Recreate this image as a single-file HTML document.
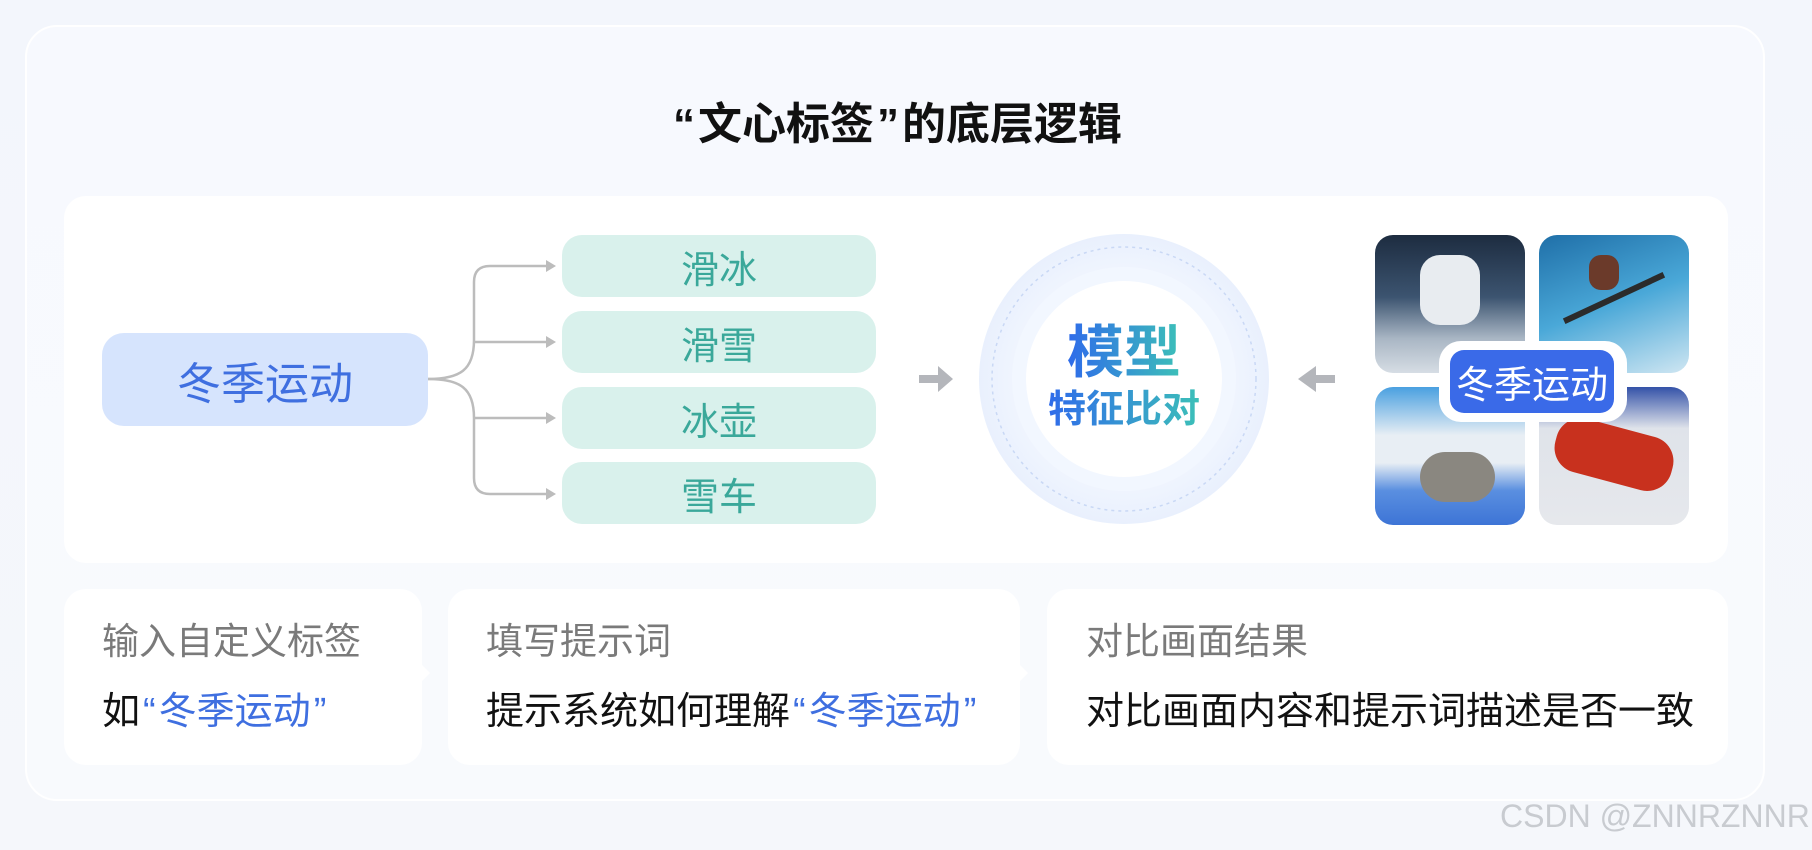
<!DOCTYPE html>
<html><head><meta charset="utf-8"><style>
*{margin:0;padding:0;box-sizing:border-box}
body{width:1812px;height:850px;overflow:hidden;background:linear-gradient(180deg,#f3f6fc,#f5f7fb);font-family:"Liberation Sans","Noto Sans CJK SC",sans-serif;position:relative}
.a{position:absolute}
.outer{left:25px;top:25px;width:1740px;height:776px;border-radius:32px;background:linear-gradient(180deg,#f7f9fe,#f8fafd);border:2px solid #fff}
.title{left:0;width:1792px;top:88px;text-align:center;font-size:44px;font-weight:bold;color:#111}
.panel{left:64px;top:196px;width:1664px;height:367px;border-radius:22px;background:#fff}
.tag{left:102px;top:333px;width:326px;height:93px;border-radius:22px;background:#d6e4fd;color:#3f6fe0;font-size:44px;display:flex;align-items:center;justify-content:center}
.pill{left:562px;width:314px;height:62px;border-radius:20px;background:#d9f1ec;color:#3aa89a;font-size:38px;display:flex;align-items:center;justify-content:center}
.img{width:150px;height:138px;border-radius:18px;overflow:hidden}
.card{top:589px;height:176px;border-radius:22px;background:#fff}
.l1{font-size:37px;color:#7a7a7a;top:611px}
.l2{font-size:38px;color:#111;top:680px;white-space:nowrap}
.bl{color:#3f6fe0}
.q{font-family:"Liberation Sans",sans-serif;padding:0 3px}
</style></head><body>
<div class="a outer"></div>
<div class="a title"><span class="q">“</span>文心标签<span class="q">”</span>的底层逻辑</div>
<div class="a panel"></div>
<div class="a tag">冬季运动</div>
<svg class="a" style="left:0;top:0" width="1812" height="850">
<g fill="none" stroke="#bcbcbc" stroke-width="2.5">
<path d="M428 379 C460 379 474 370 474 340 L474 282 Q474 266 490 266 L548 266"/>
<path d="M474 342 Q474 342 490 342 L548 342"/>
<path d="M428 379 C460 379 474 388 474 418 L474 478 Q474 494 490 494 L548 494"/>
<path d="M474 418 Q474 418 490 418 L548 418"/>
</g>
<g fill="#bcbcbc"><path d="M546 260 L556 266 L546 272Z"/><path d="M546 336 L556 342 L546 348Z"/><path d="M546 412 L556 418 L546 424Z"/><path d="M546 488 L556 494 L546 500Z"/></g>
<path d="M919 375 L938 375 L938 366 L953 379 L938 392 L938 383 L919 383Z" fill="#b4b6bb"/>
<path d="M1335 375 L1316 375 L1316 366 L1298 379 L1316 392 L1316 383 L1335 383Z" fill="#b4b6bb"/>
<defs><radialGradient id="rg"><stop offset="0.6" stop-color="#f4f8ff"/><stop offset="1" stop-color="#e9f0fd"/></radialGradient>
<linearGradient id="tg" x1="0" x2="1"><stop offset="0" stop-color="#2f6bea"/><stop offset="1" stop-color="#3cc0b8"/></linearGradient></defs>
<circle cx="1124" cy="379" r="145" fill="url(#rg)"/>
<circle cx="1124" cy="379" r="132" fill="none" stroke="#c9d8f5" stroke-width="1.5" stroke-dasharray="3 4"/>
<circle cx="1124" cy="379" r="112" fill="#f2f7ff"/>
<circle cx="1124" cy="379" r="98" fill="#fff"/>
<text x="1124" y="372" text-anchor="middle" font-size="57" font-weight="bold" fill="url(#tg)" font-family="Liberation Sans,Noto Sans CJK SC,sans-serif">模型</text>
<text x="1124" y="422" text-anchor="middle" font-size="38" font-weight="bold" fill="url(#tg)" font-family="Liberation Sans,Noto Sans CJK SC,sans-serif">特征比对</text>
<path d="M422 665 L430 673 L422 681Z" fill="#fff"/>
<path d="M1020 665 L1028 673 L1020 681Z" fill="#fff"/>
</svg>
<div class="a pill" style="top:235px">滑冰</div>
<div class="a pill" style="top:311px">滑雪</div>
<div class="a pill" style="top:387px">冰壶</div>
<div class="a pill" style="top:462px">雪车</div>
<div class="a img" style="left:1375px;top:235px;background:linear-gradient(180deg,#1d2c40 0%,#3c5470 45%,#a9b6c4 75%,#d6dde4 100%)"><div class="a" style="left:45px;top:20px;width:60px;height:70px;border-radius:20px;background:#e8ecf0"></div></div>
<div class="a img" style="left:1539px;top:235px;background:linear-gradient(160deg,#1f6fa8,#4aa8d8 50%,#cfe6f2)"><div class="a" style="left:20px;top:60px;width:110px;height:6px;background:#2b2b2b;transform:rotate(-25deg)"></div><div class="a" style="left:50px;top:20px;width:30px;height:35px;border-radius:12px;background:#6b3a2a"></div></div>
<div class="a img" style="left:1375px;top:387px;background:linear-gradient(180deg,#4aa0e0 0%,#e8eef4 35%,#e8eef4 55%,#5a8fe0 75%,#3d74d6 100%)"><div class="a" style="left:45px;top:65px;width:75px;height:50px;border-radius:30px;background:#8a8780"></div></div>
<div class="a img" style="left:1539px;top:387px;background:linear-gradient(180deg,#3452a8 0%,#dfe3ea 30%,#e6e8ec 100%)"><div class="a" style="left:15px;top:40px;width:120px;height:55px;border-radius:25px;background:#c8311e;transform:rotate(15deg)"></div></div>
<div class="a" style="left:1439px;top:341px;width:188px;height:81px;border-radius:22px;background:#fff"></div>
<div class="a" style="left:1450px;top:350px;width:164px;height:63px;border-radius:14px;background:#3a6ae8;color:#fff;font-size:38px;display:flex;align-items:center;justify-content:center">冬季运动</div>
<div class="a card" style="left:64px;width:358px"></div>
<div class="a card" style="left:448px;width:572px"></div>
<div class="a card" style="left:1047px;width:681px"></div>
<div class="a l1" style="left:102px">输入自定义标签</div>
<div class="a l1" style="left:486px">填写提示词</div>
<div class="a l1" style="left:1086px">对比画面结果</div>
<div class="a l2" style="left:102px">如<span class="bl"><span class="q">“</span>冬季运动<span class="q">”</span></span></div>
<div class="a l2" style="left:486px">提示系统如何理解<span class="bl"><span class="q">“</span>冬季运动<span class="q">”</span></span></div>
<div class="a l2" style="left:1086px">对比画面内容和提示词描述是否一致</div>
<div class="a" style="left:1500px;top:798px;font-size:32px;color:#c8cbd0;white-space:nowrap">CSDN @ZNNRZNNR</div>
</body></html>
